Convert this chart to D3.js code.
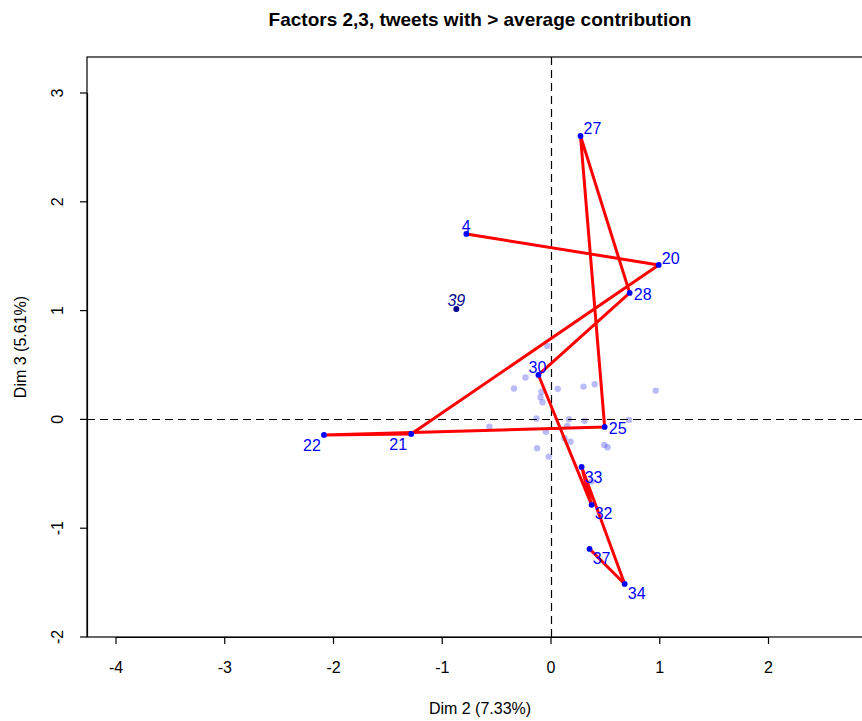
<!DOCTYPE html>
<html>
<head>
<meta charset="utf-8">
<script src="https://cdn.jsdelivr.net/npm/d3@7"></script>
<style>
  body { margin: 0; background: #fff; }
  svg { font-family: "Liberation Sans", Arial, Helvetica, sans-serif; }
</style>
</head>
<body>
<svg width="862" height="721"></svg>
<script>
// tweets with > average contribution, joined in id order
var pathIds = ["4", "20", "21", "22", "25", "27", "28", "30", "32", "33", "34", "37"];
var pathDim2 = [-0.774, 0.995, -1.281, -2.083, 0.498, 0.276, 0.728, -0.111, 0.378, 0.286, 0.682, 0.359];
var pathDim3 = [1.70, 1.415, -0.138, -0.147, -0.074, 2.60, 1.158, 0.404, -0.79, -0.441, -1.517, -1.195];

// supplementary tweet (not joined)
var suppIds = ["39"];
var suppDim2 = [-0.866];
var suppDim3 = [1.011];

// remaining tweets (faint)
var restDim2 = [-0.03, -0.23, -0.335, -0.083, 0.067, -0.092, -0.074, 0.304, 0.406, 0.968, -0.129, 0.169,
  0.154, 0.313, 0.722, -0.562, -0.043, 0.129, 0.184, 0.495, 0.525, -0.123, -0.016, 0.378];
var restDim3 = [0.67, 0.38, 0.28, 0.25, 0.276, 0.20, 0.153, 0.297, 0.319, 0.26, 0.003, -0.003,
  -0.064, -0.018, -0.009, -0.071, -0.117, -0.177, -0.209, -0.239, -0.26, -0.269, -0.347, -0.576];

var xTicks = [-4, -3, -2, -1, 0, 1, 2];
var yTicks = [-2, -1, 0, 1, 2, 3];

var titleText = "Factors 2,3, tweets with > average contribution";
var xTitle = "Dim 2 (7.33%)";
var yTitle = "Dim 3 (5.61%)";

// label offsets (pixels from point), chosen to look like the original repel
var labelOff = {
  "4": [0, -8], "20": [12, -7], "21": [-13, 10], "22": [-12, 10], "25": [13, 1],
  "27": [12, -8], "28": [13, 1], "30": [-1, -8], "32": [12, 8], "33": [12, 10],
  "34": [12, 9], "37": [12, 9], "39": [0, -9]
};

var svg = d3.select("svg"),
    box = {left: 87, top: 57, right: 873, bottom: 637};

var x = d3.scaleLinear().domain([-4, 2]).range([115.5, 768]),
    y = d3.scaleLinear().domain([-2, 3]).range([636.5, 92.5]);

var plain = function(d) { return String(d); };  // keep hyphen-minus like R

// title
svg.append("text")
  .attr("x", (box.left + box.right) / 2)
  .attr("y", 26)
  .attr("text-anchor", "middle")
  .style("font-size", "19px")
  .style("font-weight", "bold")
  .text(titleText);

// plot box
svg.append("rect")
  .attr("x", box.left).attr("y", box.top)
  .attr("width", box.right - box.left).attr("height", box.bottom - box.top)
  .attr("fill", "none").attr("stroke", "#000").attr("stroke-width", 1.2);

// axes
var xAxis = svg.append("g")
  .attr("transform", "translate(0," + box.bottom + ")")
  .call(d3.axisBottom(x).tickValues(xTicks).tickFormat(plain)
    .tickSize(7).tickSizeOuter(0).tickPadding(18));

var yAxis = svg.append("g")
  .attr("transform", "translate(" + box.left + ",0)")
  .call(d3.axisLeft(y).tickValues(yTicks).tickFormat(plain)
    .tickSize(7).tickSizeOuter(0));

yAxis.selectAll(".tick text")
  .attr("x", null).attr("dy", null)
  .attr("text-anchor", "middle")
  .attr("transform", "translate(-24,0) rotate(-90)");

svg.selectAll(".tick text").style("font-size", "16px").attr("fill", "#000")
  .style("font-family", "'Liberation Sans', Arial, sans-serif");
svg.selectAll(".domain").attr("stroke", "#000").attr("stroke-width", 1.2);
svg.selectAll(".tick line").attr("stroke", "#000").attr("stroke-width", 1.2);

// axis titles
svg.append("text")
  .attr("x", (box.left + box.right) / 2)
  .attr("y", 714)
  .attr("text-anchor", "middle")
  .style("font-size", "16px")
  .text(xTitle);

svg.append("text")
  .attr("transform", "translate(26," + (box.top + box.bottom) / 2 + ") rotate(-90)")
  .attr("text-anchor", "middle")
  .style("font-size", "16px")
  .text(yTitle);

var plot = svg.append("g");

// faint tweets
plot.selectAll(".rest")
  .data(restDim2)
  .enter().append("circle")
  .attr("class", "rest")
  .attr("cx", function(d) { return x(d); })
  .attr("cy", function(d, i) { return y(restDim3[i]); })
  .attr("r", 3.2)
  .attr("fill", "rgba(30,30,235,0.3)");

// origin lines
var y0 = Math.round(y(0)) + 0.5, x0 = Math.round(x(0)) + 0.5;
plot.append("line")
  .attr("x1", box.left).attr("x2", box.right)
  .attr("y1", y0).attr("y2", y0)
  .attr("stroke", "#000").attr("stroke-width", 1.2).attr("stroke-dasharray", "8,5");
plot.append("line")
  .attr("x1", x0).attr("x2", x0)
  .attr("y1", box.top).attr("y2", box.bottom)
  .attr("stroke", "#000").attr("stroke-width", 1.2).attr("stroke-dasharray", "8,5");

var pts = pathIds.map(function(id, i) {
  return {id: id, a: pathDim2[i], b: pathDim3[i]};
});

// red trajectory
var line = d3.line()
  .x(function(d) { return x(d.a); })
  .y(function(d) { return y(d.b); });

plot.append("path")
  .datum(pts)
  .attr("d", line)
  .attr("fill", "none")
  .attr("stroke", "#ff0000")
  .attr("stroke-width", 3)
  .attr("stroke-linejoin", "round");

plot.selectAll(".pt")
  .data(pts)
  .enter().append("circle")
  .attr("class", "pt")
  .attr("cx", function(d) { return x(d.a); })
  .attr("cy", function(d) { return y(d.b); })
  .attr("r", 2.9)
  .attr("fill", "#0000ff");

plot.selectAll(".lab")
  .data(pts)
  .enter().append("text")
  .attr("class", "lab")
  .attr("x", function(d) { return x(d.a) + labelOff[d.id][0]; })
  .attr("y", function(d) { return y(d.b) + labelOff[d.id][1]; })
  .attr("dy", "0.36em")
  .attr("text-anchor", "middle")
  .attr("fill", "#0000ff")
  .style("font-size", "16px")
  .text(function(d) { return d.id; });

// supplementary tweet
var supp = suppIds.map(function(id, i) {
  return {id: id, a: suppDim2[i], b: suppDim3[i]};
});

plot.selectAll(".supp")
  .data(supp)
  .enter().append("circle")
  .attr("class", "supp")
  .attr("cx", function(d) { return x(d.a); })
  .attr("cy", function(d) { return y(d.b); })
  .attr("r", 3)
  .attr("fill", "#00008b");

plot.selectAll(".supplab")
  .data(supp)
  .enter().append("text")
  .attr("class", "supplab")
  .attr("x", function(d) { return x(d.a) + labelOff[d.id][0]; })
  .attr("y", function(d) { return y(d.b) + labelOff[d.id][1]; })
  .attr("dy", "0.36em")
  .attr("text-anchor", "middle")
  .attr("fill", "#00008b")
  .style("font-size", "16px")
  .style("font-style", "italic")
  .text(function(d) { return d.id; });
</script>
</body>
</html>
